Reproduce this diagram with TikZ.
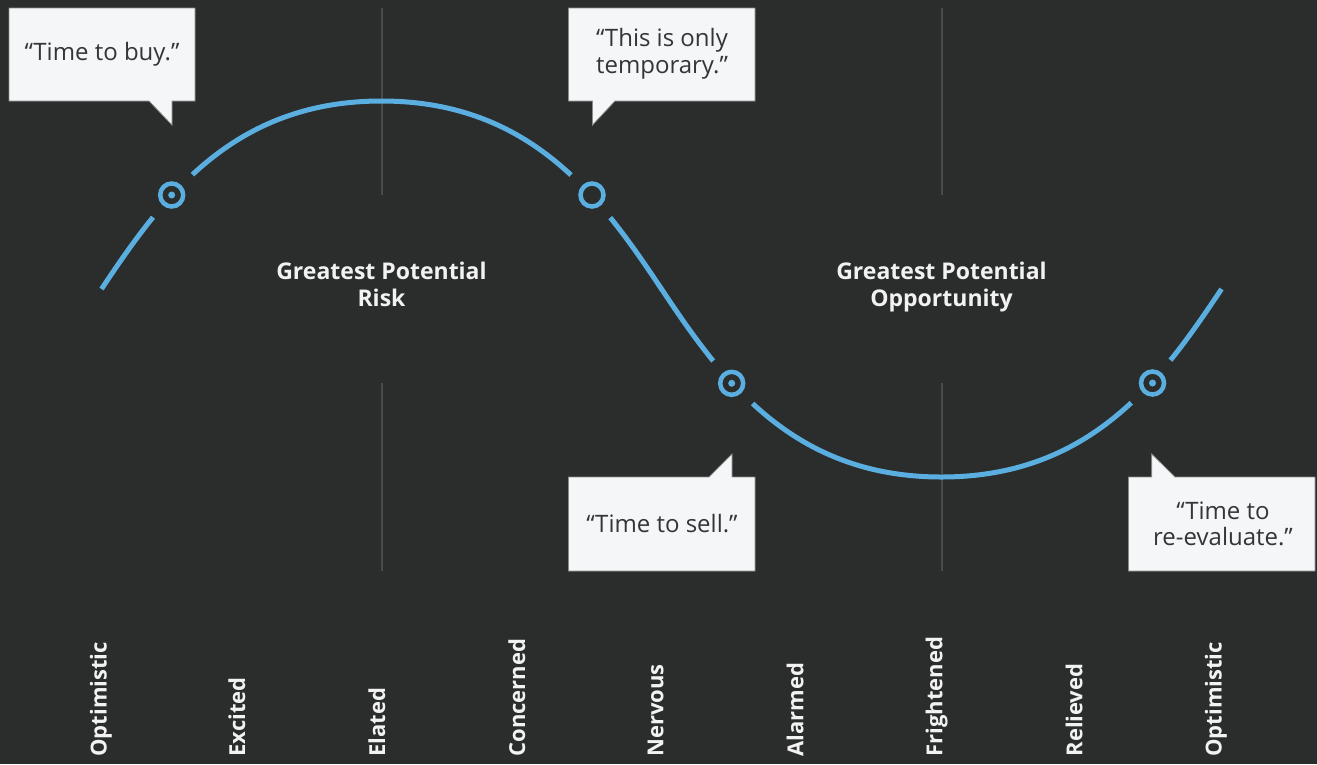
\documentclass[tikz,border=0pt]{standalone}
\usepackage{fontspec}
\setmainfont{Open Sans}
\definecolor{bg}{HTML}{2B2D2D}
\definecolor{wave}{HTML}{5AAFE0}
\definecolor{gridc}{HTML}{4A4C4C}
\definecolor{calloutfill}{HTML}{F5F6F8}
\definecolor{calloutdraw}{HTML}{8A8C8C}
\definecolor{calltextc}{HTML}{333536}
\definecolor{labeltextc}{HTML}{F2F2F2}
\begin{document}
\begin{tikzpicture}[x=1pt,y=-1pt,
  gridline/.style={draw=gridc, line width=2pt},
  wavecurve/.style={draw=wave, line width=5pt},
  gapdisc/.style={circle, fill=bg, minimum size=58pt, inner sep=0pt},
  ring/.style={circle, draw=wave, line width=4.5pt, minimum size=23pt, inner sep=0pt},
  ringdot/.style={circle, fill=wave, minimum size=7pt, inner sep=0pt},
  callout/.style={fill=calloutfill, draw=calloutdraw, line width=0.8pt},
  calltext/.style={text=calltextc, font=\fontsize{24}{27}\selectfont, inner sep=0pt, anchor=base},
  zonetext/.style={text=labeltextc, font=\bfseries\fontsize{23}{27}\selectfont, inner sep=0pt, anchor=base},
  moodtext/.style={text=labeltextc, font=\bfseries\fontsize{22}{26}\selectfont, inner sep=0pt, rotate=90, anchor=base west}
]
\fill[bg] (0,0) rectangle (1317,764);
\useasboundingbox (0,0) rectangle (1317,764);

% vertical grid lines
\coordinate (g1a) at (381.5,8);   \coordinate (g1b) at (381.5,195);
\coordinate (g1c) at (381.5,383); \coordinate (g1d) at (381.5,571);
\coordinate (g2a) at (941.5,8);   \coordinate (g2b) at (941.5,195);
\coordinate (g2c) at (941.5,383); \coordinate (g2d) at (941.5,571);
\draw[gridline] (g1a) -- (g1b);
\draw[gridline] (g1c) -- (g1d);
\draw[gridline] (g2a) -- (g2b);
\draw[gridline] (g2c) -- (g2d);

% wave
\draw[wavecurve] (101.5,289) .. controls (161.5,199) and (231.5,101) .. (381.5,101)
  .. controls (531.5,101) and (601.5,199) .. (661.5,289)
  .. controls (721.5,379) and (791.5,477) .. (941.5,477)
  .. controls (1091.5,477) and (1161.5,379) .. (1221.5,289);

% markers
\node[gapdisc] at (171.7,195) {};
\node[gapdisc] at (592,195) {};
\node[gapdisc] at (731.7,383.3) {};
\node[gapdisc] at (1152.5,383) {};
\node[ring] (c1) at (171.7,195) {};
\node[ring] (c2) at (592,195) {};
\node[ring] (c3) at (731.7,383.3) {};
\node[ring] (c4) at (1152.5,383) {};
\node[ringdot] (d1) at (c1) {};
\node[ringdot] (d3) at (c3) {};
\node[ringdot] (d4) at (c4) {};

% callouts
\draw[callout] (9,8) -- (195,8) -- (195,101) -- (172,101) -- (172,125) -- (149,101) -- (9,101) -- cycle;
\draw[callout] (568.5,8) -- (755,8) -- (755,101) -- (615,101) -- (592.5,125) -- (592.5,101) -- (568.5,101) -- cycle;
\draw[callout] (568.5,477) -- (709,477) -- (732,454) -- (732,477) -- (755,477) -- (755,571) -- (568.5,571) -- cycle;
\draw[callout] (1128.5,477) -- (1151.7,477) -- (1151.7,454) -- (1175,477) -- (1315,477) -- (1315,571) -- (1128.5,571) -- cycle;

\node[calltext] (t1) at (102,60.7) {“Time to buy.”};
\node[calltext] (t2a) at (662,46.7) {“This is only};
\node[calltext] (t2b) at (662,73.3) {temporary.”};
\node[calltext] (t3) at (662,532.3) {“Time to sell.”};
\node[calltext] (t4a) at (1223,519.3) {“Time to};
\node[calltext] (t4b) at (1223,545.3) {re-evaluate.”};

% zone labels
\node[zonetext] (z1a) at (381.5,279) {Greatest Potential};
\node[zonetext] (z1b) at (381.5,306) {Risk};
\node[zonetext] (z2a) at (941.5,279) {Greatest Potential};
\node[zonetext] (z2b) at (941.5,306) {Opportunity};

% mood labels
\node[moodtext] (m1) at (106.7,756.7) {Optimistic};
\node[moodtext] (m2) at (245,756.7) {Excited};
\node[moodtext] (m3) at (385,756.7) {Elated};
\node[moodtext] (m4) at (525,756.7) {Concerned};
\node[moodtext] (m5) at (663.3,756.7) {Nervous};
\node[moodtext] (m6) at (803.3,756.7) {Alarmed};
\node[moodtext] (m7) at (942.3,756.7) {Frightened};
\node[moodtext] (m8) at (1082.3,756.7) {Relieved};
\node[moodtext] (m9) at (1221.7,756.7) {Optimistic};
\end{tikzpicture}
\end{document}
